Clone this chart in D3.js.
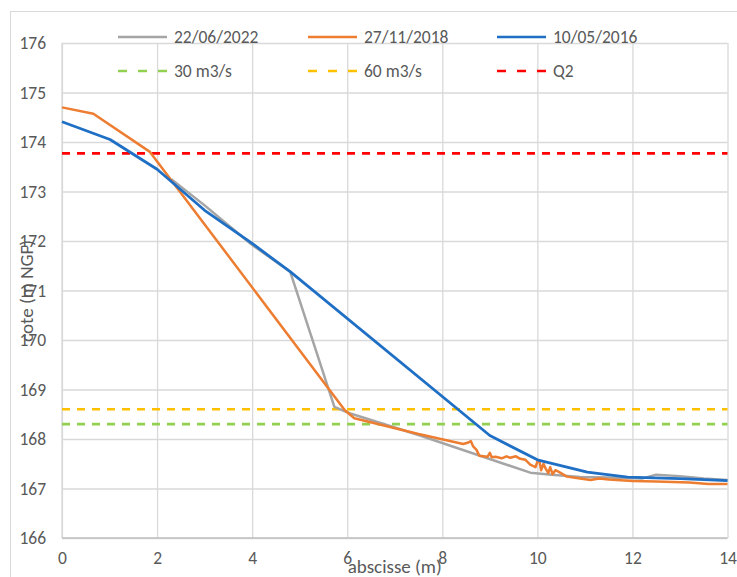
<!DOCTYPE html>
<html><head><meta charset="utf-8">
<script src="https://cdn.jsdelivr.net/npm/d3@7"></script>
<style>
body{margin:0;background:#fff;}
svg text{font-family:Carlito,"Liberation Sans Narrow","Open Sans",sans-serif;fill:#595959;}
</style></head>
<body><svg id="c" width="737" height="577"></svg>
<script>
// Series: [abscisse (m), cote (m NGF)]
const serie2022 = [[2.3,173.25],[3,172.72],[4,171.92],[4.8,171.38],[5.73,168.65],[6.05,168.52],[7.5,168.08],[9.85,167.32],[10.3,167.28],[10.9,167.23],[11.5,167.22],[12.2,167.2],[12.5,167.28],[13,167.25],[13.5,167.2],[14,167.17]];
const serie2018 = [[0,174.7],[0.66,174.57],[1.85,173.8],[5.95,168.58],[6.15,168.42],[7.5,168.1],[8.44,167.9],[8.55,167.93],[8.6,167.96],[8.65,167.85],[8.72,167.78],[8.78,167.66],[8.95,167.64],[9.0,167.72],[9.04,167.63],[9.12,167.64],[9.25,167.61],[9.35,167.65],[9.43,167.62],[9.55,167.65],[9.64,167.6],[9.75,167.58],[9.85,167.48],[9.96,167.43],[10.0,167.54],[10.04,167.57],[10.08,167.37],[10.13,167.5],[10.17,167.41],[10.23,167.31],[10.27,167.43],[10.32,167.29],[10.38,167.37],[10.48,167.32],[10.62,167.24],[10.9,167.2],[11.12,167.17],[11.3,167.2],[11.5,167.18],[12,167.15],[12.5,167.14],[13.2,167.12],[13.6,167.09],[14,167.09]];
const serie2016 = [[0,174.41],[1.01,174.05],[2,173.45],[3,172.62],[4,171.95],[4.8,171.38],[9.0,168.07],[10.0,167.58],[11.05,167.33],[11.9,167.23],[13,167.2],[14,167.16]];
const seriesNames = ["22/06/2022","27/11/2018","10/05/2016"];
const seriesColors = ["#a5a5a5","#ed7d31","#1f6fc5"];
const levelNames = ["30 m3/s","60 m3/s","Q2"];
const levelValues = [168.3,168.6,173.77];
const levelColors = ["#92d050","#ffc000","#ff0000"];
const xTicks = [0,2,4,6,8,10,12,14];
const yTicks = [166,167,168,169,170,171,172,173,174,175,176];

const svg = d3.select("#c");
const M = {l:62,r:727.5,t:43,b:538};
const x = d3.scaleLinear().domain([0,14]).range([M.l,M.r]);
const y = d3.scaleLinear().domain([166,176]).range([M.b,M.t]);

// outer chart border
svg.append("rect").attr("x",10.5).attr("y",11.5).attr("width",740).attr("height",580)
  .attr("fill","none").attr("stroke","#d9d9d9").attr("stroke-width",1);

// grid
const gx = d3.axisBottom(x).tickValues(xTicks).tickSize(-(M.b-M.t)).tickFormat(d=>d).tickPadding(14);
const gy = d3.axisLeft(y).tickValues(yTicks).tickSize(-(M.r-M.l)).tickFormat(d=>d).tickPadding(16);
const ax = svg.append("g").attr("transform",`translate(0,${M.b})`).call(gx);
const ay = svg.append("g").attr("transform",`translate(${M.l},0)`).call(gy);
[ax,ay].forEach(g=>{
  g.select(".domain").remove();
  g.selectAll(".tick line").attr("stroke","#d9d9d9").attr("stroke-width",1.3);
  g.selectAll(".tick text").attr("font-size",17.5).style("fill","#595959");
});
// axis lines
svg.append("line").attr("x1",M.l).attr("x2",M.l).attr("y1",M.t).attr("y2",M.b).attr("stroke","#d9d9d9").attr("stroke-width",1.3);
svg.append("line").attr("x1",M.l).attr("x2",M.r).attr("y1",M.b).attr("y2",M.b).attr("stroke","#bfbfbf").attr("stroke-width",1.3);

// horizontal levels
levelValues.forEach((v,i)=>{
  svg.append("line").attr("x1",M.l).attr("x2",M.r).attr("y1",y(v)).attr("y2",y(v))
    .attr("stroke",levelColors[i]).attr("stroke-width",2.6).attr("stroke-dasharray","8,7");
});

// series
const line = d3.line().x(d=>x(d[0])).y(d=>y(d[1]));
[serie2022,serie2018,serie2016].forEach((s,i)=>{
  svg.append("path").datum(s).attr("d",line).attr("fill","none")
    .attr("stroke",seriesColors[i]).attr("stroke-width",i===2?2.8:2.5).attr("stroke-linejoin","round");
});

// legend
const legX = [118,308,497];
seriesNames.forEach((n,i)=>{
  svg.append("line").attr("x1",legX[i]).attr("x2",legX[i]+49).attr("y1",37).attr("y2",37)
    .attr("stroke",seriesColors[i]).attr("stroke-width",2.6);
  svg.append("text").attr("x",legX[i]+56).attr("y",37).attr("dy","0.35em").attr("font-size",17.5).text(n);
});
levelNames.forEach((n,i)=>{
  svg.append("line").attr("x1",legX[i]).attr("x2",legX[i]+49).attr("y1",71).attr("y2",71)
    .attr("stroke",levelColors[i]).attr("stroke-width",2.6).attr("stroke-dasharray","9,11");
  svg.append("text").attr("x",legX[i]+56).attr("y",71).attr("dy","0.35em").attr("font-size",17.5).text(n);
});

// axis titles
svg.append("text").attr("x",(M.l+M.r)/2).attr("y",566).attr("dy","0.35em").attr("text-anchor","middle")
  .attr("font-size",19).text("abscisse (m)");
svg.append("text").attr("transform",`translate(26,291) rotate(-90)`).attr("dy","0.35em")
  .attr("text-anchor","middle").attr("font-size",19).text("cote (m NGF)");
</script></body></html>
